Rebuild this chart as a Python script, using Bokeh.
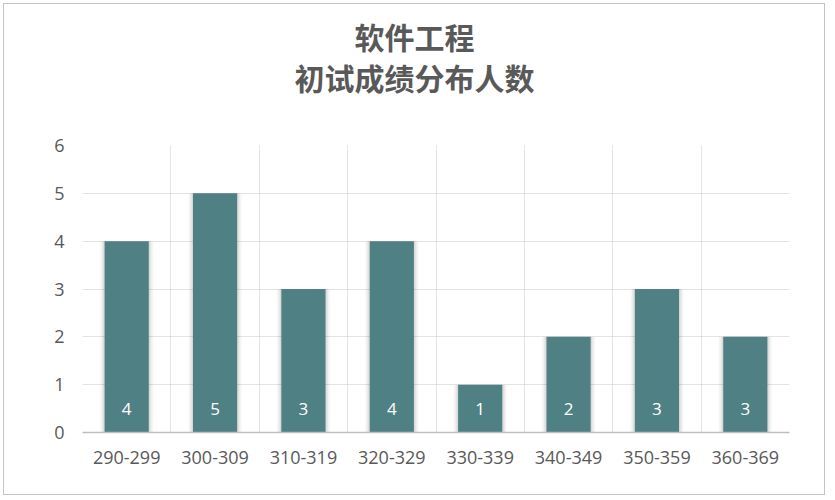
from bokeh.plotting import figure
from bokeh.models import (FactorRange, Range1d, FixedTicker, Grid, LabelSet,
                          ColumnDataSource, SingleIntervalTicker, Title)
from bokeh.core.properties import value
from bokeh.embed import file_html
from bokeh.resources import INLINE

# score bands and number of students in each band
score_bands = ["290-299", "300-309", "310-319", "320-329",
               "330-339", "340-349", "350-359", "360-369"]
student_counts = [4, 5, 3, 4, 1, 2, 3, 2]
count_labels = ["4", "5", "3", "4", "1", "2", "3", "3"]

title_lines = ["软件工程", "初试成绩分布人数"]

BAR_COLOR = "#4f8184"
TEXT_COLOR = "#595959"
GRID_COLOR = "#c8c8c8"

source = ColumnDataSource(dict(band=score_bands, count=student_counts,
                               label=count_labels))

p = figure(width=822, height=492, x_range=FactorRange(*score_bands),
           y_range=Range1d(0, 6), output_backend="svg", toolbar_location=None,
           min_border_left=78, min_border_right=37, min_border_top=141,
           min_border_bottom=64, title=None)
p.styles = {"border": "1.5px solid #c4c4c4", "margin": "3px 0 0 3px"}
p.outline_line_color = None


def title_line(text, offset, standoff):
    return Title(text=text, align="left", offset=offset, standoff=standoff,
                 text_font="Noto Sans CJK SC", text_font_size="30px",
                 text_font_style="bold", text_color=TEXT_COLOR)


# panels above the frame stack outward: an empty spacer, then the two
# title lines, each shifted so it sits centred over the whole card
spacer = Title(text=" ", text_font_size="1px", standoff=44)
p.add_layout(spacer, "above")
p.add_layout(title_line(title_lines[1], 212, 0), "above")
p.add_layout(title_line(title_lines[0], 272, -10), "above")

# soft shadow behind each bar
for w, a in [(0.60, 0.04), (0.56, 0.05), (0.53, 0.06)]:
    p.vbar(x="band", top="count", width=w, source=source,
           fill_color="#000000", fill_alpha=a, line_color=None)

p.vbar(x="band", top="count", width=0.5, source=source,
       fill_color=BAR_COLOR, line_color=None)

labels = LabelSet(x="band", y=0, text="label", source=source,
                  y_offset=24, text_align="center", text_baseline="middle",
                  text_color="#ffffff", text_font=value("Open Sans"),
                  text_font_size="17px")
p.add_layout(labels)

# grid: dotted lines at integer counts and at the band boundaries
p.xgrid.grid_line_color = None
p.ygrid.ticker = SingleIntervalTicker(interval=1)
p.ygrid.grid_line_color = GRID_COLOR
p.ygrid.grid_line_dash = "1 1"
vgrid = Grid(dimension=0, ticker=FixedTicker(ticks=list(range(0, 9))),
             grid_line_color=GRID_COLOR, grid_line_dash="1 1")
p.add_layout(vgrid)

p.yaxis.ticker = SingleIntervalTicker(interval=1)
p.yaxis.axis_line_color = None
p.yaxis.major_tick_line_color = None
p.yaxis.minor_tick_line_color = None
p.yaxis.major_label_text_font = "Open Sans"
p.yaxis.major_label_text_font_size = "18px"
p.yaxis.major_label_text_color = TEXT_COLOR
p.yaxis.major_label_standoff = 12

p.xaxis.axis_line_color = "#bfbfbf"
p.xaxis.axis_line_width = 1.5
p.xaxis.major_tick_line_color = None
p.xaxis.minor_tick_line_color = None
p.xaxis.major_label_text_font = "Open Sans"
p.xaxis.major_label_text_font_size = "18px"
p.xaxis.major_label_text_color = TEXT_COLOR
p.xaxis.major_label_standoff = 12

open("out.html", "w").write(file_html(p, INLINE))
